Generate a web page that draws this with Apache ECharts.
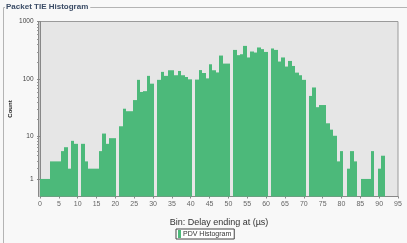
<!DOCTYPE html>
<html>
<head>
<meta charset="utf-8">
<script src="https://cdn.jsdelivr.net/npm/echarts@6/dist/echarts.min.js"></script>
<style>
html,body{margin:0;padding:0;background:#f8f8f8;}
#c{width:407px;height:243px;}
</style>
</head>
<body>
<div id="c"></div>
<script>
// ---- data ----
const seriesName = 'PDV Histogram';
const binWidth = 0.915; // µs per histogram bin
const counts = [
  1,1,1,3,3,3,5,6,2,8,
  7,0,7,3,2,2,2,5,11,7,
  9,9,0,15,31,28,28,44,99,61,
  63,116,85,0,99,136,116,145,145,119,
  141,119,111,101,0,100,146,130,105,184,
  145,133,260,189,189,0,325,264,274,381,
  241,305,293,358,335,300,0,344,325,205,
  241,168,210,172,132,119,99,0,52,73,
  33,36,36,17,13,10,3,5,0,2,
  5,3,0,1,1,1,5,0,2,4
];
const xMin = 0, xMax = 95, xStep = 5;
const yTickValues = [1, 10, 100, 1000];
const yMinorTickValues = [2,3,4,5,6,7,8,9,20,30,40,50,60,70,80,90,200,300,400,500,600,700,800,900];

// ---- chart ----
const toAxis = c => Math.log10(1 + c);
const barColor = '#4cb97a';
const binData = counts.map((c, i) => [i * binWidth, (i + 1) * binWidth, c]);

const chart = echarts.init(document.getElementById('c'), null, {renderer: 'canvas'});
const yBase = {
  type: 'value', min: 0, max: toAxis(1000), offset: 1.5, position: 'left',
  axisLine: {show: true, lineStyle: {color: '#888', width: 1}},
  splitLine: {show: false}
};
chart.setOption({
  animation: false,
  backgroundColor: '#f8f8f8',
  graphic: [
    {type: 'rect', z: 0, silent: true,
     shape: {x: 3.5, y: 7.5, width: 420, height: 260},
     style: {fill: 'none', stroke: '#b4b4b4', lineWidth: 1}},
    {type: 'text', z: 10, left: 5, top: 3,
     style: {text: 'Packet TIE Histogram', font: 'bold 8px "Liberation Sans", sans-serif',
             fill: '#3b4c66', backgroundColor: '#f8f8f8', padding: [0, 2, 0, 1]}}
  ],
  grid: {left: 40, right: 9, top: 21.5, bottom: 46.5, show: true, containLabel: false,
         outerBoundsMode: 'none',
         backgroundColor: '#e6e6e6', borderColor: '#9a9a9a', borderWidth: 1},
  legend: {
    data: [{name: seriesName, icon: 'rect'}],
    left: 176, top: 229, itemWidth: 3, itemHeight: 8, itemGap: 0,
    padding: [1, 3, 1, 2], borderColor: '#444', borderWidth: 1, borderRadius: 0,
    backgroundColor: '#fff',
    textStyle: {fontSize: 7, color: '#333', fontFamily: '"Liberation Sans", sans-serif', padding: [0, 0, 0, -3]}
  },
  xAxis: {
    type: 'value', min: xMin, max: xMax, interval: xStep,
    name: 'Bin: Delay ending at (µs)', nameLocation: 'middle', nameGap: 22,
    nameMoveOverlap: false,
    nameTextStyle: {fontSize: 9, color: '#333', fontFamily: '"Liberation Sans", sans-serif'},
    axisLine: {show: true, lineStyle: {color: '#888'}},
    axisTick: {show: true, length: 2, lineStyle: {color: '#888'}},
    axisLabel: {fontSize: 7, color: '#666', margin: 4, fontFamily: '"Liberation Sans", sans-serif'},
    splitLine: {show: false}
  },
  yAxis: [
    Object.assign({}, yBase, {
      name: 'Count', nameLocation: 'middle', nameGap: 25, nameRotate: 90,
      nameMoveOverlap: false,
      nameTextStyle: {fontSize: 6, fontWeight: 'bold', color: '#222', fontFamily: '"Liberation Sans", sans-serif'},
      axisTick: {show: true, length: 3, customValues: yTickValues.map(toAxis), lineStyle: {color: '#888'}},
      axisLabel: {show: true, fontSize: 6.5, color: '#444', margin: 5,
                  customValues: yTickValues.map(toAxis),
                  fontFamily: '"Liberation Sans", sans-serif',
                  formatter: v => String(Math.round(Math.pow(10, v) - 1))}
    }),
    Object.assign({}, yBase, {
      axisTick: {show: true, length: 1.5, customValues: yMinorTickValues.map(toAxis), lineStyle: {color: '#999'}},
      axisLabel: {show: false}
    })
  ],
  series: [{
    type: 'custom', name: seriesName, data: binData,
    itemStyle: {color: barColor},
    encode: {x: [0, 1], y: 2},
    renderItem: (params, api) => {
      const c = api.value(2);
      if (!(c > 0)) return null;
      const p0 = api.coord([api.value(0), toAxis(c)]);
      const p1 = api.coord([api.value(1), 0]);
      const xa = Math.round(p0[0]), xb = Math.round(p1[0]);
      return {type: 'rect',
              shape: {x: xa, y: p0[1], width: xb - xa, height: p1[1] - p0[1]},
              style: {fill: barColor}};
    }
  }]
});
</script>
</body>
</html>
